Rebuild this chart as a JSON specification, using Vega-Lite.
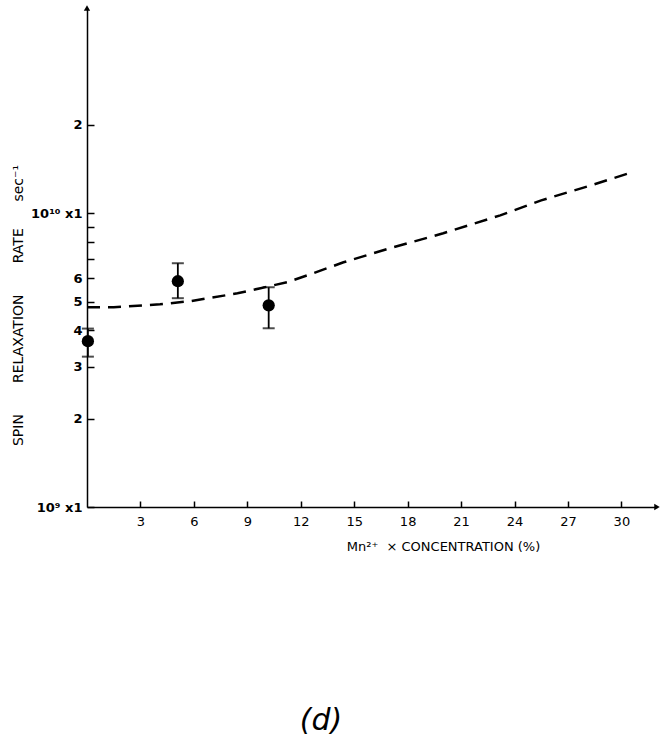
{
  "$schema": "https://vega.github.io/schema/vega-lite/v6.json",
  "autosize": "none",
  "width": 570,
  "height": 499,
  "padding": {"left": 87, "top": 8, "right": 9, "bottom": 237},
  "background": "white",
  "config": {
    "view": {"stroke": null},
    "font": "Liberation Sans",
    "axis": {"grid": false, "domainColor": "black", "tickColor": "black", "labelColor": "black", "titleColor": "black", "domainWidth": 1.5, "tickWidth": 1.5}
  },
  "title": {"text": "(d)", "orient": "bottom", "offset": 153, "fontSize": 30, "font": "DejaVu Sans", "fontStyle": "italic", "fontWeight": "normal", "anchor": "middle", "dx": -51, "color": "black"},
  "datasets": {
    "curve": [
      {"x": 0, "y": 4.79}, {"x": 1.5, "y": 4.79}, {"x": 4.1, "y": 4.9}, {"x": 5.8, "y": 5.02},
      {"x": 8.45, "y": 5.34}, {"x": 9.74, "y": 5.56}, {"x": 11.26, "y": 5.83}, {"x": 12.7, "y": 6.25},
      {"x": 14.4, "y": 6.81}, {"x": 17.0, "y": 7.6}, {"x": 20.0, "y": 8.55}, {"x": 23.2, "y": 9.84},
      {"x": 25.5, "y": 11.07}, {"x": 28.3, "y": 12.45}, {"x": 30.6, "y": 13.8}
    ],
    "pts": [
      {"x": 0.05, "y": 3.67, "lo": 3.25, "hi": 4.05},
      {"x": 5.1, "y": 5.87, "lo": 5.14, "hi": 6.76},
      {"x": 10.2, "y": 4.86, "lo": 4.06, "hi": 5.6}
    ],
    "arrows": [
      {"x": 32, "y": 1, "s": "triangle-right"},
      {"x": 0, "y": 50, "s": "triangle-up"}
    ]
  },
  "layer": [
    {
      "data": {"name": "curve"},
      "mark": {"type": "line", "color": "black", "strokeWidth": 2.5, "strokeDash": [13, 8]},
      "encoding": {
        "x": {"field": "x", "type": "quantitative",
          "scale": {"domain": [0, 32], "nice": false, "zero": true},
          "axis": {"values": [3, 6, 9, 12, 15, 18, 21, 24, 27, 30], "tickSize": -6, "labelPadding": 14, "labelFontSize": 13, "labelFont": "DejaVu Sans",
            "title": "Mn²⁺\u00a0\u00a0×\u00a0CONCENTRATION\u00a0(%)", "titleFontSize": 13, "titleFontWeight": "normal", "titleFont": "DejaVu Sans", "titlePadding": 12, "titleX": 356}},
        "y": {"field": "y", "type": "quantitative",
          "scale": {"type": "log", "domain": [1, 50], "nice": false},
          "axis": {"values": [1, 2, 3, 4, 5, 6, 7, 8, 9, 10, 20], "tickSize": -7, "labelPadding": 12, "labelFontSize": 13, "labelFont": "DejaVu Sans", "labelFontWeight": "bold",
            "labelExpr": "datum.value == 1 ? '10⁹ x1' : datum.value == 10 ? '10¹⁰ x1' : (datum.value >= 7 && datum.value <= 9) ? '' : datum.value == 20 ? '2' : datum.label",
            "title": "SPIN\u00a0\u00a0\u00a0\u00a0\u00a0\u00a0\u00a0RELAXATION\u00a0\u00a0\u00a0\u00a0\u00a0\u00a0\u00a0RATE\u00a0\u00a0\u00a0\u00a0\u00a0\u00a0sec⁻¹", "titleFontSize": 14, "titleFontWeight": "normal", "titleFont": "DejaVu Sans", "titleY": 297, "titleX": -62}}
      }
    },
    {
      "data": {"name": "pts"},
      "mark": {"type": "rule", "color": "black", "strokeWidth": 1.8},
      "encoding": {
        "x": {"field": "x", "type": "quantitative"},
        "y": {"field": "lo", "type": "quantitative"},
        "y2": {"field": "hi"}
      }
    },
    {
      "data": {"name": "pts"},
      "mark": {"type": "tick", "color": "black", "orient": "horizontal", "size": 12, "thickness": 2},
      "encoding": {
        "x": {"field": "x", "type": "quantitative"},
        "y": {"field": "lo", "type": "quantitative"}
      }
    },
    {
      "data": {"name": "pts"},
      "mark": {"type": "tick", "color": "black", "orient": "horizontal", "size": 12, "thickness": 2},
      "encoding": {
        "x": {"field": "x", "type": "quantitative"},
        "y": {"field": "hi", "type": "quantitative"}
      }
    },
    {
      "data": {"name": "pts"},
      "mark": {"type": "point", "filled": true, "color": "black", "size": 150, "opacity": 1},
      "encoding": {
        "x": {"field": "x", "type": "quantitative"},
        "y": {"field": "y", "type": "quantitative"}
      }
    },
    {
      "data": {"name": "arrows"},
      "mark": {"type": "point", "filled": true, "color": "black", "size": 40, "opacity": 1},
      "encoding": {
        "x": {"field": "x", "type": "quantitative"},
        "y": {"field": "y", "type": "quantitative"},
        "shape": {"field": "s", "type": "nominal", "scale": null, "legend": null}
      }
    }
  ]
}
